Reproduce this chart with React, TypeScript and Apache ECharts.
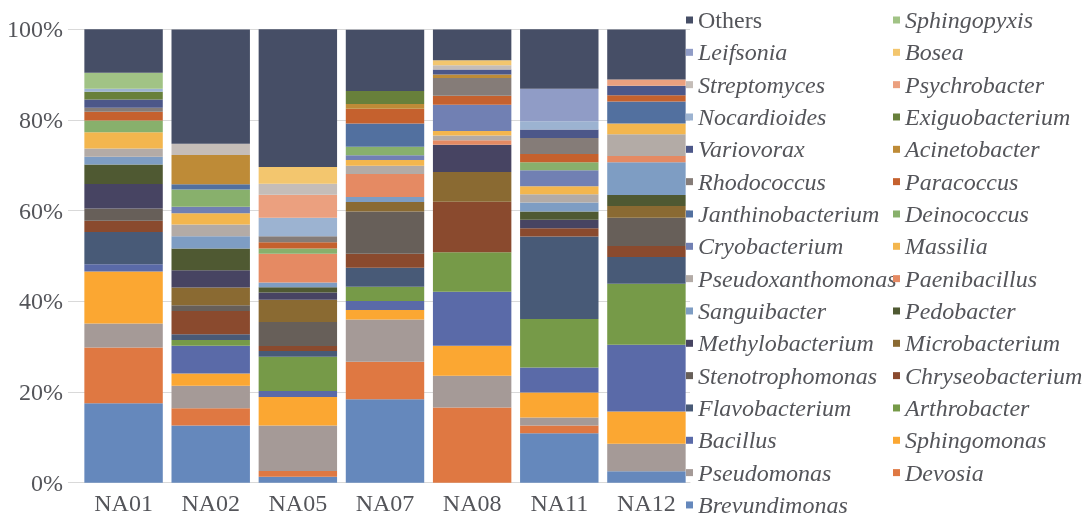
import React, { useEffect, useRef } from "react";
import * as echarts from "echarts";

const samples = ["NA01", "NA02", "NA05", "NA07", "NA08", "NA11", "NA12"];

// stacking order, bottom to top
const genera = [
  "Brevundimonas", "Devosia", "Pseudomonas", "Sphingomonas", "Bacillus",
  "Arthrobacter", "Flavobacterium", "Chryseobacterium", "Stenotrophomonas", "Microbacterium",
  "Methylobacterium", "Pedobacter", "Sanguibacter", "Paenibacillus", "Pseudoxanthomonas",
  "Massilia", "Cryobacterium", "Deinococcus", "Janthinobacterium", "Paracoccus",
  "Rhodococcus", "Acinetobacter", "Variovorax", "Exiguobacterium", "Nocardioides",
  "Psychrobacter", "Streptomyces", "Bosea", "Leifsonia", "Sphingopyxis", "Others",
];

const colors = [
  "#6588BC", "#DF7842", "#A59A97", "#FBA732", "#5A6AA8",
  "#769A48", "#485A77", "#8A4A2E", "#675F59", "#8A6A32",
  "#474462", "#4F5932", "#7E9DC3", "#E58A63", "#B3ABA6",
  "#F3B64E", "#7180B3", "#88B06C", "#52709F", "#C5612E",
  "#857C78", "#BE8B37", "#4C5789", "#68803B", "#9CB3D1",
  "#EBA07F", "#C5BDB8", "#F3C66E", "#909CC6", "#A1C385", "#464E66",
];

// relative abundance (%) per sample, in the genera order above
const NA01 = [17.5, 12.3, 5.3, 11.5, 1.6, 0, 7.1, 2.5, 2.7, 0, 5.4, 4.3, 1.7, 0, 1.8, 3.6, 0, 2.6, 0, 1.9, 0.9, 0, 1.8, 1.7, 0.7, 0, 0, 0, 0, 3.5, 9.7];
const NA02 = [12.6, 3.8, 5.0, 2.7, 6.1, 1.3, 1.25, 5.1, 1.3, 3.9, 3.8, 4.8, 2.7, 0, 2.6, 2.5, 1.4, 3.8, 1.2, 0, 0, 6.4, 0, 0, 0, 0, 2.5, 0, 0, 0, 25.2];
const NA05 = [1.3, 1.3, 10.0, 6.3, 1.3, 7.6, 1.25, 1.1, 5.3, 4.9, 1.6, 1.17, 1.04, 6.31, 0, 0, 0, 1.19, 0, 1.38, 1.33, 0, 0, 0, 4.04, 5.1, 2.4, 3.7, 0, 0, 30.4];
const NA07 = [18.4, 8.3, 9.3, 2.1, 2.0, 3.1, 4.2, 3.1, 9.3, 2.1, 0, 0, 1.1, 5.1, 1.8, 1.3, 1.0, 1.9, 5.1, 3.3, 0, 1.0, 0, 2.9, 0, 0, 0, 0, 0, 0, 13.5];
const NA08 = [0, 16.6, 7.0, 6.6, 11.9, 8.75, 0, 11.1, 0, 6.6, 6.0, 0, 0, 1.0, 1.0, 1.0, 5.8, 0, 0, 2.0, 3.9, 0.8, 1.1, 0, 0, 0, 0.9, 1.1, 0, 0, 6.8];
const NA11 = [10.9, 1.7, 1.8, 5.5, 5.5, 10.7, 18.2, 1.8, 0, 0, 1.9, 1.8, 2.0, 0, 1.8, 1.8, 3.5, 1.8, 0, 1.8, 3.5, 0, 1.9, 0, 1.8, 0, 0, 0, 7.2, 0, 13.1];
const NA12 = [2.5, 0, 6.1, 7.1, 14.7, 13.5, 5.9, 2.4, 6.25, 2.6, 0, 2.4, 7.2, 1.4, 4.8, 2.4, 0, 0, 4.8, 1.4, 0, 0, 2.1, 0, 0, 1.4, 0, 0, 0, 0, 11.0];

const sampleValues = [NA01, NA02, NA05, NA07, NA08, NA11, NA12];

const legendCol1 = [
  "Leifsonia", "Streptomyces", "Nocardioides", "Variovorax", "Rhodococcus",
  "Janthinobacterium", "Cryobacterium", "Pseudoxanthomonas", "Sanguibacter",
  "Methylobacterium", "Stenotrophomonas", "Flavobacterium", "Bacillus", "Pseudomonas", "Brevundimonas",
];
const legendCol2 = [
  "Sphingopyxis", "Bosea", "Psychrobacter", "Exiguobacterium", "Acinetobacter", "Paracoccus",
  "Deinococcus", "Massilia", "Paenibacillus", "Pedobacter", "Microbacterium",
  "Chryseobacterium", "Arthrobacter", "Sphingomonas", "Devosia",
];

const yTicks = [0, 20, 40, 60, 80, 100];

export default function App() {
  const ref = useRef<HTMLDivElement>(null);
  useEffect(() => {
    if (!ref.current) return;
    const chart = echarts.init(ref.current, null, { renderer: "svg" });
    const makeLegend = (left: number, top: number, data: string[], italic: boolean) => ({
      orient: "vertical",
      left,
      top,
      height: 512,
      padding: 0,
      itemWidth: 7,
      itemHeight: 7,
      itemGap: 8.33,
      icon: "rect",
      selectedMode: false,
      data,
      textStyle: {
        fontFamily: "Liberation Serif",
        fontSize: 24,
        fontStyle: italic ? "italic" : "normal",
      },
    });
    chart.setOption({
      animation: false,
      legend: [
        makeLegend(686, 8, ["Others"], false),
        makeLegend(686, 40.33, legendCol1, true),
        makeLegend(893, 8, legendCol2, true),
      ],
      grid: { left: 80, right: 398, top: 29.3, bottom: 33.3 },
      xAxis: {
        type: "category",
        data: samples,
        axisLine: { show: true, lineStyle: { color: "#d9d9d9", width: 1 } },
        axisTick: { show: false },
        axisLabel: { fontFamily: "Liberation Serif", fontSize: 24 },
      },
      yAxis: {
        type: "value",
        min: yTicks[0],
        max: yTicks[yTicks.length - 1],
        interval: 20,
        axisLine: { show: false },
        axisTick: { show: true, length: 12, lineStyle: { color: "#d9d9d9" } },
        splitLine: { show: true, lineStyle: { color: "#d9d9d9", width: 1 } },
        axisLabel: { fontFamily: "Liberation Serif", fontSize: 24, margin: 17, formatter: "{value}%" },
      },
      series: genera.map((g, gi) => ({
        name: g,
        type: "bar",
        stack: "total",
        barCategoryGap: "10%",
        itemStyle: { color: colors[gi] },
        data: sampleValues.map((arr) => arr[gi]),
      })),
    });
    return () => chart.dispose();
  }, []);
  return <div ref={ref} style={{ position: "fixed", left: 0, top: 0, width: 1088, height: 516 }} />;
}
